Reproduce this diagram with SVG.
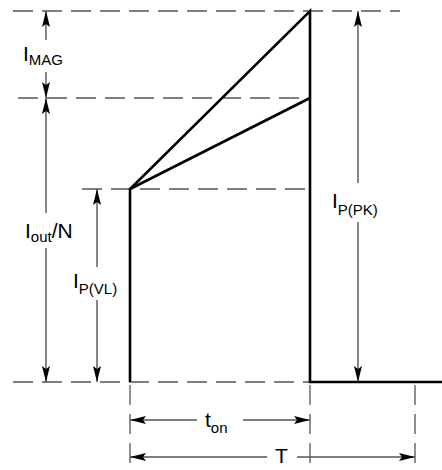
<svg xmlns="http://www.w3.org/2000/svg" width="442" height="470" viewBox="0 0 442 470">
<style>
.dash{stroke:#555;stroke-width:1.3;stroke-dasharray:20 9;fill:none}
.thick{stroke:#000;stroke-width:2.6;fill:none;stroke-linejoin:miter}
.arr{stroke:#555;stroke-width:1.4;fill:none}
.lbl{font-family:"Liberation Sans",Arial,sans-serif;font-size:21px;fill:#000}
.sub{font-size:15px}
</style>
<defs>
<marker id="ah" viewBox="0 0 16 8" refX="16" refY="4" markerWidth="16" markerHeight="8" markerUnits="userSpaceOnUse" orient="auto">
<path d="M0,0 L16,4 L0,8 L3,4 Z" fill="#000"/>
</marker>
</defs>
<g id="guides">
<line class="dash" x1="13" y1="11" x2="400" y2="11"/>
<line class="dash" x1="18" y1="98" x2="310" y2="98"/>
<line class="dash" x1="82" y1="189" x2="310" y2="189"/>
<line class="dash" x1="13" y1="382" x2="310" y2="382"/>
<line class="dash" x1="130" y1="385" x2="130" y2="470"/>
<line class="dash" x1="310" y1="385" x2="310" y2="470"/>
<line class="dash" x1="415" y1="385" x2="415" y2="470"/>
</g>
<g id="waveform">
<polyline class="thick" points="130,382 130,189 310,11 310,382 442,382"/>
<line class="thick" x1="130" y1="189" x2="310" y2="98"/>
</g>
<g id="connectors">
<line class="arr" x1="46" y1="40" x2="46" y2="11" marker-end="url(#ah)"/>
<line class="arr" x1="46" y1="72" x2="46" y2="98" marker-end="url(#ah)"/>
<line class="arr" x1="46" y1="213" x2="46" y2="98" marker-end="url(#ah)"/>
<line class="arr" x1="46" y1="248" x2="46" y2="382" marker-end="url(#ah)"/>
<line class="arr" x1="97" y1="267" x2="97" y2="189" marker-end="url(#ah)"/>
<line class="arr" x1="97" y1="300" x2="97" y2="382" marker-end="url(#ah)"/>
<line class="arr" x1="358" y1="183" x2="358" y2="11" marker-end="url(#ah)"/>
<line class="arr" x1="358" y1="222" x2="358" y2="382" marker-end="url(#ah)"/>
<line class="arr" x1="197" y1="420" x2="130" y2="420" marker-end="url(#ah)"/>
<line class="arr" x1="243" y1="420" x2="310" y2="420" marker-end="url(#ah)"/>
<line class="arr" x1="267" y1="457" x2="130" y2="457" marker-end="url(#ah)"/>
<line class="arr" x1="297" y1="457" x2="415" y2="457" marker-end="url(#ah)"/>
</g>
<g id="labels">
<text class="lbl" x="23" y="61">I<tspan class="sub" dy="4">MAG</tspan></text>
<text class="lbl" x="25" y="238">I<tspan class="sub" dy="4">out</tspan><tspan dy="-4">/N</tspan></text>
<text class="lbl" x="73" y="288">I<tspan class="sub" dy="6">P(VL)</tspan></text>
<text class="lbl" x="332" y="208">I<tspan class="sub" dy="7">P(PK)</tspan></text>
<text class="lbl" x="205" y="427">t<tspan class="sub" dy="6">on</tspan></text>
<text class="lbl" x="275" y="463">T</text>
</g>
</svg>
